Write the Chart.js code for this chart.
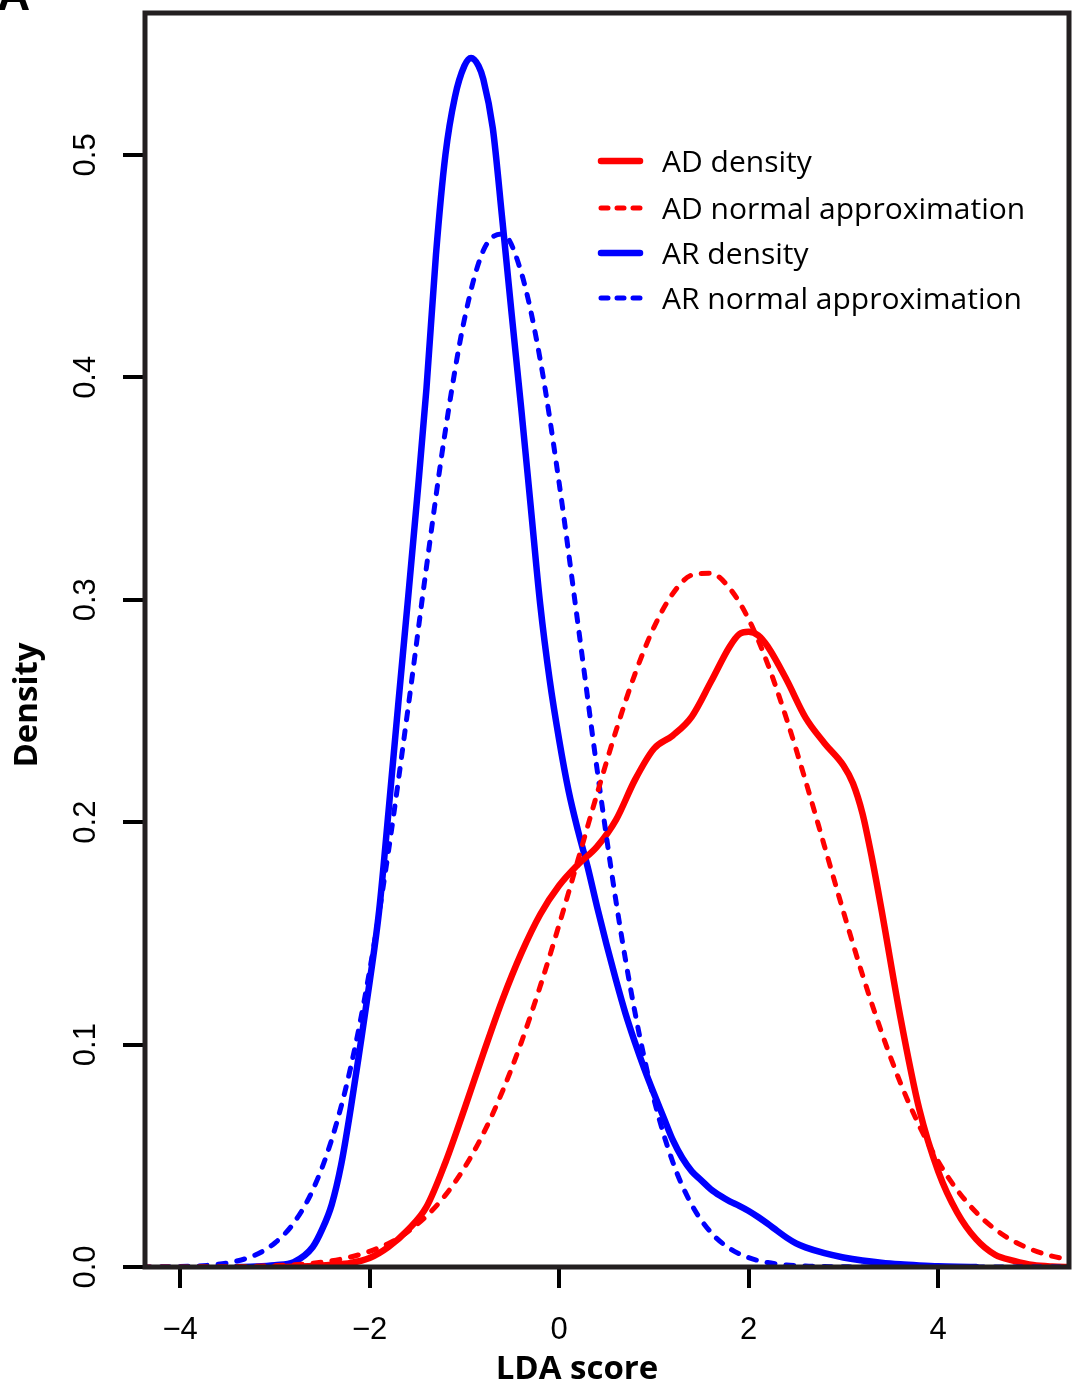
<!DOCTYPE html>
<html>
<head>
<meta charset="utf-8">
<script src="https://cdn.jsdelivr.net/npm/chart.js@4.4.1/dist/chart.umd.min.js"></script>
<style>
  html, body { margin: 0; padding: 0; background: #fff; }
  #wrap { width: 1074px; height: 1389px; position: relative; }
</style>
</head>
<body>
<div id="wrap"><canvas id="chart"></canvas></div>
<script>
// x grid shared by both normal approximation curves
const normGrid = [-4.4, -4.2, -4.0, -3.8, -3.6, -3.4, -3.2, -3.0, -2.8, -2.6,
  -2.4, -2.2, -2.0, -1.8, -1.6, -1.4, -1.2, -1.0, -0.8, -0.6,
  -0.4, -0.2, 0.0, 0.2, 0.4, 0.6, 0.8, 1.0, 1.2, 1.4,
  1.6, 1.8, 2.0, 2.2, 2.4, 2.6, 2.8, 3.0, 3.2, 3.4,
  3.6, 3.8, 4.0, 4.2, 4.4, 4.6, 4.8, 5.0, 5.2, 5.4];

const adNormal = [0.0000, 0.0000, 0.0000, 0.0001, 0.0001, 0.0002, 0.0003, 0.0006, 0.0010, 0.0017,
  0.0028, 0.0045, 0.0070, 0.0106, 0.0158, 0.0229, 0.0323, 0.0446, 0.0600, 0.0788,
  0.1009, 0.1262, 0.1539, 0.1832, 0.2127, 0.2411, 0.2666, 0.2876, 0.3028, 0.3111,
  0.3119, 0.3051, 0.2912, 0.2712, 0.2464, 0.2186, 0.1892, 0.1597, 0.1315, 0.1058,
  0.0829, 0.0635, 0.0474, 0.0346, 0.0246, 0.0170, 0.0115, 0.0076, 0.0049, 0.0031];

const arNormal = [0.0000, 0.0001, 0.0002, 0.0005, 0.0012, 0.0027, 0.0055, 0.0108, 0.0198, 0.0346,
  0.0573, 0.0897, 0.1332, 0.1872, 0.2494, 0.3147, 0.3762, 0.4260, 0.4570, 0.4645,
  0.4472, 0.4080, 0.3525, 0.2886, 0.2239, 0.1644, 0.1145, 0.0755, 0.0471, 0.0279,
  0.0156, 0.0083, 0.0042, 0.0020, 0.0009, 0.0004, 0.0002, 0.0001, 0.0000, 0.0000,
  0.0000, 0.0000, 0.0000, 0.0000, 0.0000, 0.0000, 0.0000, 0.0000, 0.0000, 0.0000];

// kernel density estimates
const adDensX = [-3.0, -2.8, -2.6, -2.4, -2.2, -2.0, -1.8, -1.6, -1.4, -1.2,
  -1.0, -0.8, -0.6, -0.4, -0.2, 0.0, 0.2, 0.4, 0.6, 0.8,
  1.0, 1.2, 1.4, 1.6, 1.8, 1.9, 2.0, 2.1, 2.2, 2.4,
  2.6, 2.8, 3.0, 3.1, 3.2, 3.3, 3.4, 3.6, 3.8, 4.0,
  4.2, 4.4, 4.6, 4.8, 5.0, 5.2, 5.4];
const adDensY = [0.0000, 0.0001, 0.0004, 0.0010, 0.0018, 0.0040, 0.0090, 0.0165, 0.0270, 0.0470,
  0.0710, 0.0960, 0.1200, 0.1410, 0.1585, 0.1715, 0.1810, 0.1890, 0.2010, 0.2190,
  0.2330, 0.2390, 0.2475, 0.2630, 0.2790, 0.2845, 0.2856, 0.2840, 0.2790, 0.2640,
  0.2470, 0.2355, 0.2255, 0.2175, 0.2040, 0.1840, 0.1610, 0.1125, 0.0710, 0.0430,
  0.0245, 0.0125, 0.0055, 0.0028, 0.0009, 0.0002, 0.0000];

const arDensX = [-3.4, -3.2, -3.0, -2.8, -2.6, -2.5, -2.4, -2.3, -2.2, -2.1,
  -2.0, -1.9, -1.8, -1.7, -1.6, -1.5, -1.4, -1.3, -1.2, -1.1,
  -1.0, -0.93, -0.85, -0.8, -0.7, -0.6, -0.5, -0.4, -0.3, -0.2,
  -0.1, 0.0, 0.1, 0.2, 0.3, 0.4, 0.5, 0.6, 0.7, 0.8,
  0.9, 1.0, 1.1, 1.2, 1.3, 1.4, 1.5, 1.6, 1.7, 1.8,
  1.9, 2.0, 2.1, 2.2, 2.3, 2.4, 2.5, 2.6, 2.8, 3.0,
  3.2, 3.4, 3.6, 3.8, 4.0, 4.2, 4.4];
const arDensY = [0.0000, 0.0002, 0.0008, 0.0022, 0.0090, 0.0170, 0.0280, 0.0460, 0.0710, 0.0990,
  0.1280, 0.1600, 0.2050, 0.2520, 0.2980, 0.3450, 0.3950, 0.4550, 0.5000, 0.5260,
  0.5400, 0.5436, 0.5400, 0.5340, 0.5120, 0.4710, 0.4280, 0.3860, 0.3420, 0.2980,
  0.2640, 0.2370, 0.2140, 0.1960, 0.1800, 0.1620, 0.1450, 0.1290, 0.1140, 0.1010,
  0.0890, 0.0780, 0.0675, 0.0570, 0.0490, 0.0430, 0.0390, 0.0350, 0.0320, 0.0295,
  0.0275, 0.0252, 0.0225, 0.0195, 0.0163, 0.0132, 0.0106, 0.0088, 0.0062, 0.0043,
  0.0029, 0.0019, 0.0012, 0.0007, 0.0003, 0.0001, 0.0000];

const xTicks = [-4, -2, 0, 2, 4];
const yTicks = [0, 0.1, 0.2, 0.3, 0.4, 0.5];
const yTickLabels = ['0.0', '0.1', '0.2', '0.3', '0.4', '0.5'];

const legendItems = [
  { label: 'AD density', color: '#ff0000', dashed: false },
  { label: 'AD normal approximation', color: '#ff0000', dashed: true },
  { label: 'AR density', color: '#0000ff', dashed: false },
  { label: 'AR normal approximation', color: '#0000ff', dashed: true },
];

const RED = '#ff0000';
const BLUE = '#0000ff';
const FRAME = '#231f20';
const SOLID_W = 6.5;
const DASH_W = 5;
const DASH = [8, 11];

const pairs = (xs, ys) => xs.map((x, i) => ({ x, y: ys[i] }));

function lineSet(label, data, color, dashed) {
  return {
    label,
    data,
    borderColor: color,
    borderWidth: dashed ? DASH_W : SOLID_W,
    borderDash: dashed ? DASH : [],
    borderCapStyle: 'round',
    borderJoinStyle: 'round',
    pointRadius: 0,
    fill: false,
    cubicInterpolationMode: 'monotone',
  };
}

// frame, rotated y labels, axis titles, legend and the panel letter
const decorations = {
  id: 'decorations',
  afterDraw(chart) {
    const { ctx, chartArea: a, scales } = chart;
    ctx.save();

    ctx.strokeStyle = FRAME;
    ctx.lineWidth = 5;
    ctx.strokeRect(a.left, a.top, a.right - a.left, a.bottom - a.top);

    ctx.fillStyle = '#000';
    ctx.font = '31px "Liberation Sans", Arial, sans-serif';
    ctx.textAlign = 'center';
    ctx.textBaseline = 'middle';
    yTicks.forEach((v, i) => {
      ctx.save();
      ctx.translate(86, scales.y.getPixelForValue(v));
      ctx.rotate(-Math.PI / 2);
      ctx.fillText(yTickLabels[i], 0, 0);
      ctx.restore();
    });

    ctx.font = 'bold 33px "Open Sans", sans-serif';
    ctx.save();
    ctx.translate(28, 705);
    ctx.rotate(-Math.PI / 2);
    ctx.fillText('Density', 0, 0);
    ctx.restore();
    ctx.fillText('LDA score', 577, 1370);

    ctx.textAlign = 'left';
    ctx.font = '30px "Open Sans", sans-serif';
    const rows = [161, 208, 253, 298];
    legendItems.forEach((it, i) => {
      const y = rows[i];
      ctx.beginPath();
      ctx.strokeStyle = it.color;
      ctx.lineCap = 'round';
      ctx.lineWidth = it.dashed ? DASH_W : SOLID_W;
      ctx.setLineDash(it.dashed ? [7, 9] : []);
      ctx.moveTo(601, y);
      ctx.lineTo(640, y);
      ctx.stroke();
      ctx.setLineDash([]);
      ctx.fillStyle = '#000';
      ctx.fillText(it.label, 662, y + 2);
    });

    ctx.font = 'bold 46px "Liberation Sans", Arial, sans-serif';
    ctx.textBaseline = 'alphabetic';
    ctx.fillText('A', -3, 10);

    ctx.restore();
  },
};

new Chart(document.getElementById('chart'), {
  type: 'line',
  data: {
    datasets: [
      lineSet('AD normal approximation', pairs(normGrid, adNormal), RED, true),
      lineSet('AR normal approximation', pairs(normGrid, arNormal), BLUE, true),
      lineSet('AD density', pairs(adDensX, adDensY), RED, false),
      lineSet('AR density', pairs(arDensX, arDensY), BLUE, false),
    ],
  },
  options: {
    responsive: true,
    maintainAspectRatio: false,
    animation: false,
    layout: { padding: { top: 13, right: 5, left: 0, bottom: 0 } },
    plugins: { legend: { display: false }, tooltip: { enabled: false } },
    scales: {
      x: {
        type: 'linear',
        min: -4.37,
        max: 5.38,
        afterBuildTicks: s => { s.ticks = xTicks.map(v => ({ value: v })); },
        afterFit: s => { s.height = 122; },
        ticks: {
          callback: v => String(v).replace('-', '\u2212'),
          font: { family: '"Liberation Sans", Arial, sans-serif', size: 31 },
          color: '#000',
          padding: 24,
          maxRotation: 0,
          autoSkip: false,
        },
        grid: { drawOnChartArea: false, drawTicks: true, tickLength: 21, lineWidth: 4, color: '#000' },
        border: { display: false },
      },
      y: {
        type: 'linear',
        min: 0,
        max: 0.5638,
        afterBuildTicks: s => { s.ticks = yTicks.map(v => ({ value: v })); },
        afterFit: s => { s.width = 145; },
        ticks: { display: false },
        grid: { drawOnChartArea: false, drawTicks: true, tickLength: 22, lineWidth: 4, color: '#000' },
        border: { display: false },
      },
    },
  },
  plugins: [decorations],
});
</script>
</body>
</html>
